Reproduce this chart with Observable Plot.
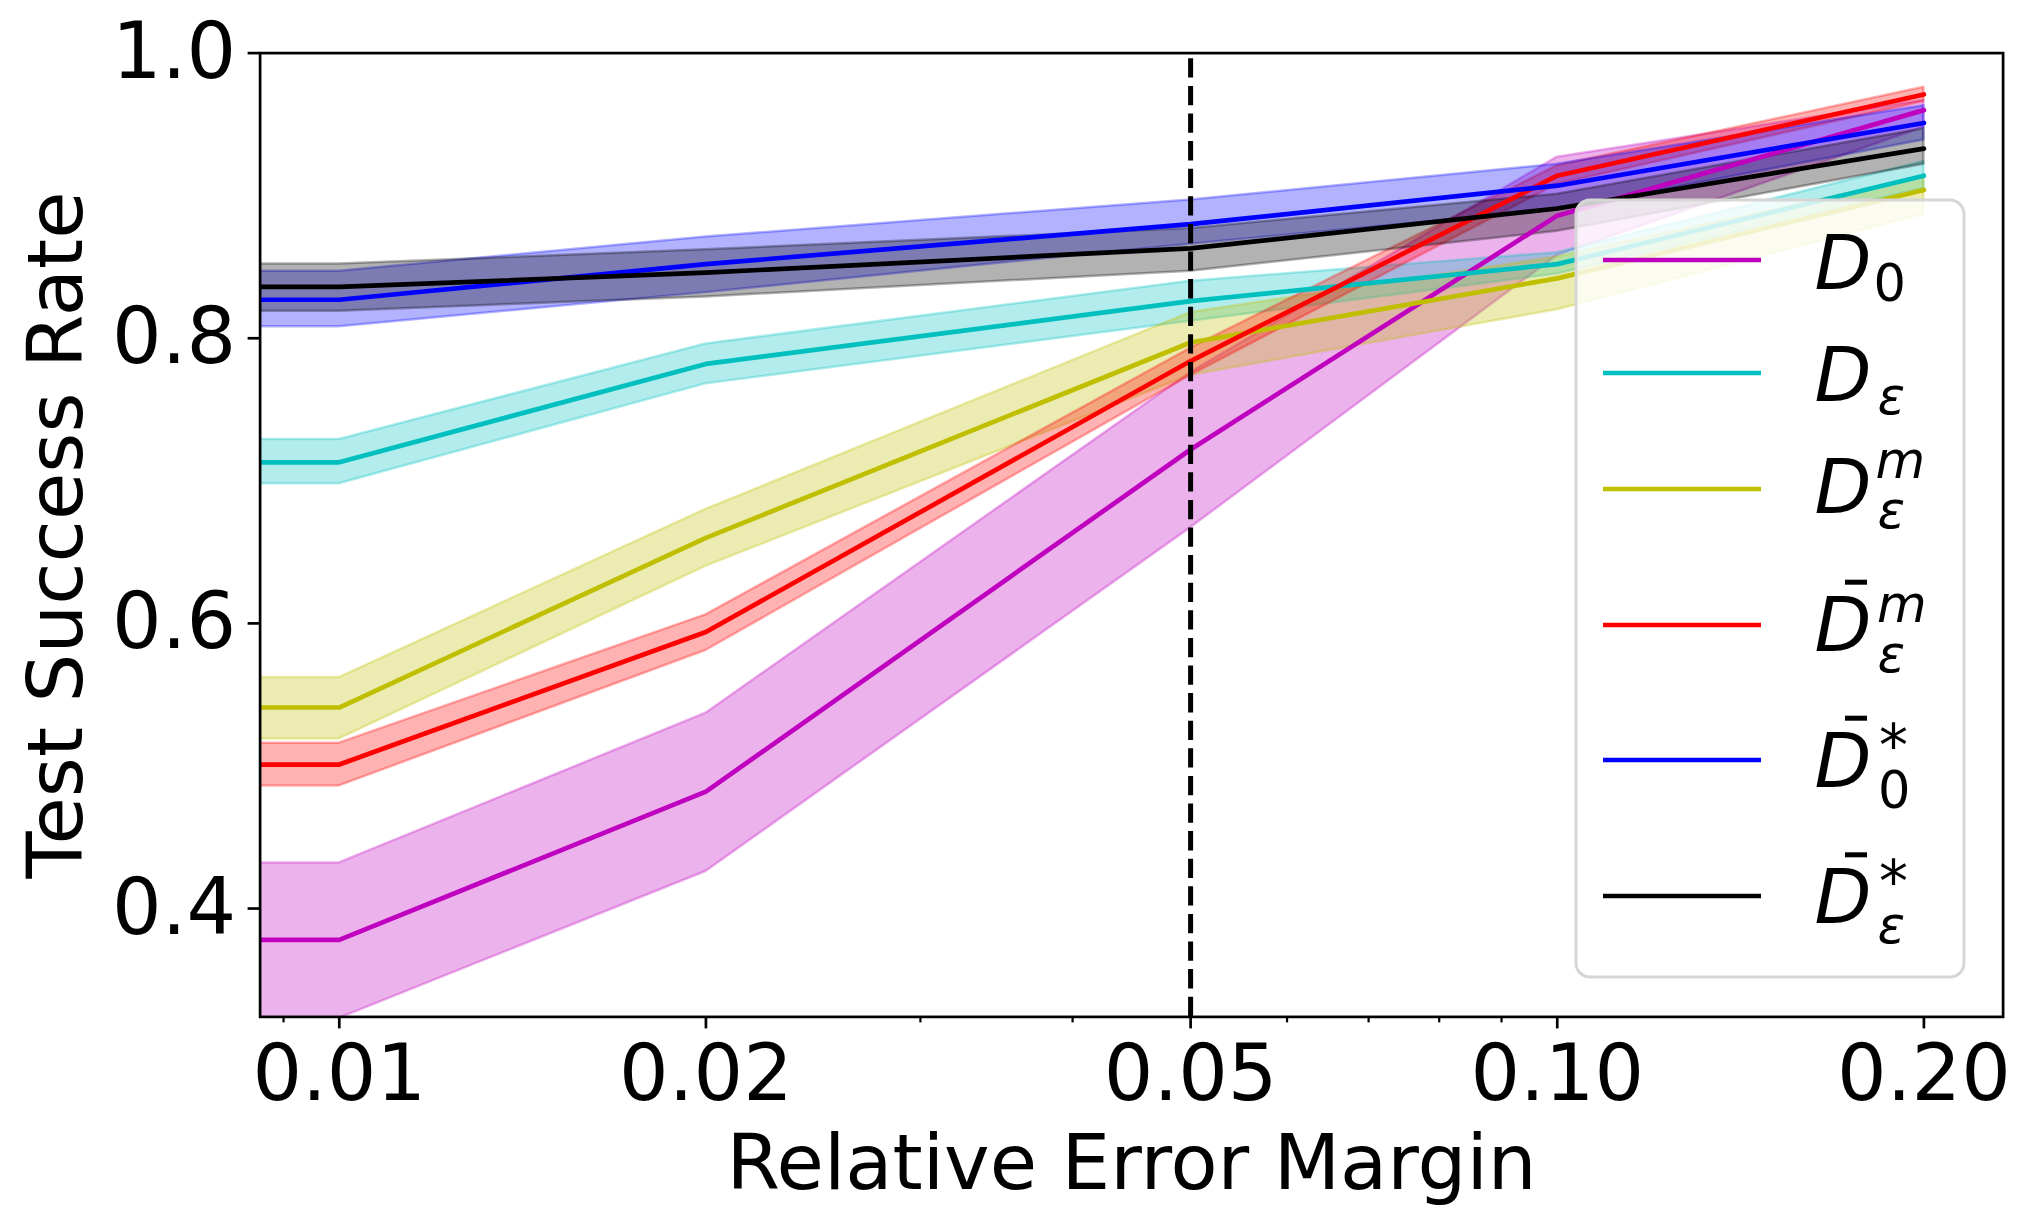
<!DOCTYPE html>
<html>
<head>
<meta charset="utf-8">
<script src="https://cdn.jsdelivr.net/npm/d3@7"></script>
<script src="https://cdn.jsdelivr.net/npm/@observablehq/plot@0.6"></script>
<style>
  html, body { margin: 0; padding: 0; background: #fff; }
  #chart { position: relative; width: 2033px; height: 1227px; }
  #legend { position: absolute; left: 0; top: 0; pointer-events: none; }
</style>
</head>
<body>
<div id="chart"></div>
<script>
// ---------------- data ----------------
// first entry: left edge of the view (lines run flat there up to 0.01)
const margins = [0.001, 0.01, 0.02, 0.05, 0.10, 0.20];

const seriesKeys = ["D0", "Deps", "Deps_m", "Dbar_eps_m", "Dbar_0_star", "Dbar_eps_star"];
const seriesColors = ["#bf00bf", "#00bfbf", "#bfbf00", "#ff0000", "#0000ff", "#000000"];

const meanD0 = [0.378, 0.378, 0.482, 0.722, 0.886, 0.960];
const lowD0  = [0.323, 0.323, 0.426, 0.667, 0.858, 0.948];
const highD0 = [0.432, 0.432, 0.537, 0.776, 0.927, 0.967];

const meanDeps = [0.713, 0.713, 0.782, 0.826, 0.852, 0.914];
const lowDeps  = [0.698, 0.698, 0.768, 0.812, 0.845, 0.905];
const highDeps = [0.729, 0.729, 0.796, 0.840, 0.860, 0.924];

const meanDepsM = [0.541, 0.541, 0.660, 0.797, 0.842, 0.904];
const lowDepsM  = [0.519, 0.519, 0.640, 0.774, 0.820, 0.887];
const highDepsM = [0.562, 0.562, 0.680, 0.818, 0.857, 0.913];

const meanDbarEpsM = [0.501, 0.501, 0.594, 0.784, 0.914, 0.971];
const lowDbarEpsM  = [0.486, 0.486, 0.581, 0.774, 0.908, 0.966];
const highDbarEpsM = [0.516, 0.516, 0.606, 0.793, 0.921, 0.976];

const meanDbar0Star = [0.827, 0.827, 0.852, 0.880, 0.907, 0.951];
const lowDbar0Star  = [0.808, 0.808, 0.832, 0.866, 0.890, 0.939];
const highDbar0Star = [0.847, 0.847, 0.871, 0.897, 0.922, 0.963];

const meanDbarEpsStar = [0.836, 0.836, 0.846, 0.863, 0.891, 0.933];
const lowDbarEpsStar  = [0.819, 0.819, 0.829, 0.847, 0.875, 0.922];
const highDbarEpsStar = [0.852, 0.852, 0.862, 0.877, 0.901, 0.947];

const xTicks = [0.01, 0.02, 0.05, 0.10, 0.20];
const xMinorTicks = [0.009, 0.03, 0.04, 0.06, 0.07, 0.08, 0.09];
const yTicks = [0.4, 0.6, 0.8, 1.0];
const refMargin = [0.05];

const xLabel = "Relative Error Margin";
const yLabel = "Test Success Rate";

// ---------------- build table ----------------
const means = [meanD0, meanDeps, meanDepsM, meanDbarEpsM, meanDbar0Star, meanDbarEpsStar];
const lows  = [lowD0, lowDeps, lowDepsM, lowDbarEpsM, lowDbar0Star, lowDbarEpsStar];
const highs = [highD0, highDeps, highDepsM, highDbarEpsM, highDbar0Star, highDbarEpsStar];

const tables = seriesKeys.map((k, s) =>
  margins.map((m, i) => ({series: k, m, mean: means[s][i], lo: lows[s][i], hi: highs[s][i]}))
);

// ---------------- plot ----------------
const W = 2033, H = 1227;
const mL = 259.6, mR = 30.4, mT = 52.6, mB = 210.6;

const areas = tables.map((t, s) => Plot.areaY(t, {
  x: "m", y1: "lo", y2: "hi",
  fill: seriesColors[s], fillOpacity: 0.3,
  stroke: seriesColors[s], strokeOpacity: 0.3, strokeWidth: 2.5,
  clip: true
}));
const lines = tables.map((t, s) => Plot.line(t, {
  x: "m", y: "mean", stroke: seriesColors[s], strokeWidth: 4.7, clip: true
}));

const chart = Plot.plot({
  width: W, height: H,
  marginLeft: mL, marginRight: mR, marginTop: mT, marginBottom: mB,
  x: {type: "log", domain: [0.00861, 0.2323]},
  y: {domain: [0.324, 1.0]},
  style: {fontFamily: "DejaVu Sans", background: "white", overflow: "visible", color: "black"},
  marks: [
    ...areas,
    ...lines,
    Plot.ruleX(refMargin, {stroke: "black", strokeWidth: 5, strokeDasharray: "19.3,8.3", strokeDashoffset: 21.9}),
    Plot.frame({stroke: "black", strokeWidth: 2.7}),
    Plot.axisX({ticks: xTicks, tickFormat: d3.format(".2f"), tickSize: 12, tickPadding: 16,
                fontSize: 78, strokeWidth: 2.7, label: null}),
    Plot.axisX({ticks: xMinorTicks, tickFormat: () => "", tickSize: 6, strokeWidth: 2.2, label: null}),
    Plot.axisY({ticks: yTicks, tickFormat: d3.format(".1f"), tickSize: 12, tickPadding: 12,
                fontSize: 78, strokeWidth: 2.7, label: null}),
    Plot.text([xLabel], {text: d => d, frameAnchor: "bottom", dy: 147, fontSize: 77, lineAnchor: "middle"}),
    Plot.text([yLabel], {text: d => d, frameAnchor: "left", dx: -203, rotate: -90, fontSize: 77,
                         lineAnchor: "middle", textAnchor: "middle"})
  ]
});
document.getElementById("chart").appendChild(chart);

// ---------------- legend ----------------
const legendRows = [
  {color: seriesColors[0], lineY: 260, base: 289.3, bar: false,
   sup: null, sub: {t: "0", italic: false, x: 1873.6, dy: 11.7}},
  {color: seriesColors[1], lineY: 373, base: 400.7, bar: false,
   sup: null, sub: {t: "ε", italic: true, x: 1877.5, dy: 13}},
  {color: seriesColors[2], lineY: 489, base: 513.3, bar: false,
   sup: {t: "m", italic: true, x: 1875.5, dy: -35, size: 51},
   sub: {t: "ε", italic: true, x: 1877.5, dy: 15}},
  {color: seriesColors[3], lineY: 625, base: 650.7, bar: true,
   sup: {t: "m", italic: true, x: 1877, dy: -29, size: 51},
   sub: {t: "ε", italic: true, x: 1877.5, dy: 21}},
  {color: seriesColors[4], lineY: 760, base: 786.7, bar: true,
   sup: {t: "*", italic: false, x: 1879, dy: -21, size: 58},
   sub: {t: "0", italic: false, x: 1878, dy: 21.6}},
  {color: seriesColors[5], lineY: 896, base: 923.3, bar: true,
   sup: {t: "*", italic: false, x: 1879, dy: -21, size: 58},
   sub: {t: "ε", italic: true, x: 1877.5, dy: 20}}
];

const lg = d3.select("#chart").append("svg")
  .attr("id", "legend").attr("width", W).attr("height", H)
  .style("font-family", "DejaVu Sans");

lg.append("rect")
  .attr("x", 1576).attr("y", 200).attr("width", 388).attr("height", 777)
  .attr("rx", 14).attr("ry", 14)
  .attr("fill", "white").attr("fill-opacity", 0.8)
  .attr("stroke", "#d6d6d6").attr("stroke-width", 3);

for (const r of legendRows) {
  lg.append("line")
    .attr("x1", 1603).attr("x2", 1761).attr("y1", r.lineY).attr("y2", r.lineY)
    .attr("stroke", r.color).attr("stroke-width", 4.7);
  if (r.bar) {
    lg.append("rect").attr("x", 1845).attr("y", r.base - 71).attr("width", 22).attr("height", 5)
      .attr("fill", "black");
  }
  // one text element per label; sub/superscripts as positioned tspans
  const t = lg.append("text").attr("x", 1814.5).attr("y", r.base);
  t.append("tspan").attr("x", 1814.5).attr("y", r.base)
    .attr("font-size", 74).attr("font-style", "italic").text("D");
  if (r.sup) {
    t.append("tspan").attr("x", r.sup.x).attr("y", r.base + r.sup.dy)
      .attr("font-size", r.sup.size).attr("font-style", r.sup.italic ? "italic" : "normal")
      .text(r.sup.t);
  }
  if (r.sub) {
    t.append("tspan").attr("x", r.sub.x).attr("y", r.base + r.sub.dy)
      .attr("font-size", 51).attr("font-style", r.sub.italic ? "italic" : "normal")
      .text(r.sub.t);
  }
}
</script>
</body>
</html>
